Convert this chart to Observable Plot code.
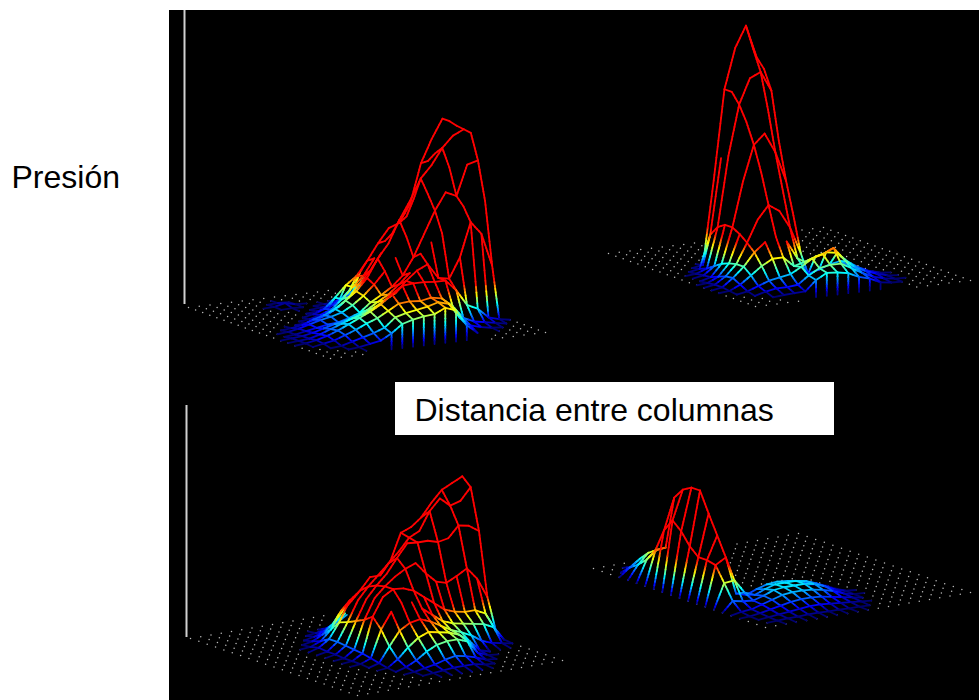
<!DOCTYPE html>
<html><head><meta charset="utf-8">
<style>html,body{margin:0;padding:0;background:#fff}svg{display:block}</style>
<script src="https://cdn.jsdelivr.net/npm/d3@7"></script>
<script src="https://cdn.jsdelivr.net/npm/@observablehq/plot@0.6"></script>
</head><body><div id="chart"></div>
<script>
const _ = null; // node hidden behind the surface in the picture
const pressure1 = [
[0,0,0,0,0,0,0,0,0,0,0,0,0,0,_,_,_,_,_,_,_],
[0,0,0,0,0,0,0,0,0,0,0,0,0,0,_,_,_,_,_,_,_],
[0,0,0,0,0,0,0,.5,0,0,0,0,0,_,_,_,_,_,_,_,_],
[0,0,0,0,0,0,.5,3,.5,0,0,0,_,_,_,_,_,_,_,_,_],
[0,0,0,0,0,0,0,.5,0,0,.5,2,5,10,_,_,_,_,_,_,_],
[0,0,0,0,0,0,0,0,0,1,3,8,14,25,_,_,_,_,_,_,_],
[0,0,0,0,0,0,0,0,1,3,8,18,35,_,_,_,_,_,_,_,_],
[0,0,0,0,0,0,0,2,6,16,27,35,49,65,79,83,101,140,163,182,_],
[0,0,0,0,0,0,1,4,8,17,28,38,54,70,82,92,112,145,167,182,_],
[0,0,0,0,0,1,3,7,13,22,34,46,62,80,96,112,130,155,172,180,_],
[0,0,0,1,3,7,10,15,22,30,42,60,74,96,114,135,147,163,174,179,_],
[0,0,1,3,6,9,11,14,20,28,38,50,62,82,100,122,138,146,165,178,_],
[0,0,1,3,5,7,8,11,15,24,30,37,47,64,86,108,125,120,150,153,_],
[0,1,2,4,7,10,12,15,20,27,33,42,52,70,80,88,97,112,118,115,_],
[0,1,2,5,9,13,17,20,25,31,37,48,57,62,47,45,65,99,86,53,_],
[0,1,3,6,10,15,20,25,31,40,47,48,48,47,47,36,20,15,5,2,0],
[0,0,2,4,8,12,17,21,27,33,34,33,35,33,24,11,6,4,2,0,0],
[0,0,0,1,4,7,10,14,23,26,28,30,33,30,15,6,3,1,0,0,0],
[0,0,0,0,1,3,5,11,19,22,24,25,30,26,10,1,_,0,0,0,0],
[0,0,0,0,0,_,_,_,_,_,_,_,_,_,_,_,0,0,0,0,0],
[0,0,0,0,_,_,_,_,_,_,_,_,_,_,_,0,0,0,0,0,0]
];
const pressure2 = [
[0,0,0,0,0,0,0,0,0,_,_,_,_,_,_,_,_,_,0,0,0],
[0,0,0,0,0,0,0,0,0,_,_,_,_,_,_,_,_,_,0,0,0],
[0,0,0,0,0,0,0,0,_,_,_,_,_,_,_,_,_,0,0,0,0],
[0,0,0,0,0,0,0,_,_,_,_,_,_,_,_,_,0,0,0,0,0],
[0,0,0,0,0,0,0,_,_,_,_,_,_,_,_,_,0,0,0,0,0],
[0,0,0,0,0,0,_,_,_,_,_,_,_,_,_,0,0,0,0,0,0],
[0,0,0,0,0,_,_,_,_,_,_,_,_,_,0,0,0,0,0,0,0],
[0,0,0,0,2,85,175,215,236,203,_,_,_,_,0,0,_,0,0,0,0],
[0,0,0,2,35,110,175,205,215,194,_,_,_,_,_,_,_,0,0,0,0],
[0,0,1,5,45,115,165,190,195,175,_,_,_,_,_,_,0,0,0,0,0],
[0,0,2,10,50,110,150,170,160,128,_,_,_,_,_,_,0,0,0,0,0],
[0,0,3,15,50,95,130,140,120,90,_,_,_,_,_,_,0,0,0,0,0],
[0,1,6,18,46,80,105,105,85,58,_,_,_,_,_,0,0,0,0,0,0],
[0,2,9,20,40,62,75,68,50,23,_,_,_,_,_,0,0,0,0,0,0],
[0,2,10,20,33,42,46,40,22,5,8,12,14,7,2,0,0,0,0,0,0],
[0,1,6,14,22,28,28,18,21,25,28,26,16,9,4,1,0,0,0,0,0],
[0,0,2,6,10,12,14,20,27,30,35,22,13,8,4,1,0,0,0,0,0],
[0,0,0,3,5,5,6,14,20,22,22,16,10,5,2,.5,0,0,0,0,0],
[0,0,0,0,1,1.5,2,12,18,17,15,10,7,2,.5,0,0,0,0,0,0],
[0,0,0,0,_,_,_,_,_,_,_,_,_,_,_,0,0,0,0,0,0],
[0,0,0,0,0,_,_,_,_,_,_,_,_,_,_,0,0,0,0,0,0]
];
const pressure3 = [
[0,0,0,0,0,0,0,0,0,0,0,0,0,0,_,_,_,_,_,_,_],
[0,0,0,0,0,0,0,0,0,0,0,0,0,_,_,_,_,_,_,_,_],
[0,0,0,0,0,0,0,0,0,0,0,0,_,_,_,_,_,_,_,_,_],
[0,0,0,0,0,0,0,0,0,0,0,0,_,_,_,_,_,_,_,_,_],
[0,0,0,0,0,0,0,0,0,1,4,8,14,_,_,_,_,_,_,_,_],
[0,0,0,0,0,0,0,0,2,6,12,20,_,_,_,_,_,_,_,_,_],
[0,0,0,0,0,0,0,2,7,16,28,_,_,_,_,_,_,_,_,_,_],
[0,0,0,0,0,0,1,5,15,32,40,_,_,_,_,_,_,_,_,_,_],
[0,0,0,0,0,0,3,10,25,45,53,65,65,78,104,108,116,129,140,145,150],
[0,0,0,0,0,0,2,10,28,48,60,70,80,90,102,107,125,136,127,130,142],
[0,0,0,0,0,0,2,9,32,52,64,74,88,101,100,100,97,99,110,108,101],
[0,0,0,0,0,0,1,8,36,56,66,74,80,84,72,62,59,64,70,58,38],
[0,0,0,0,0,0,1,7,42,60,66,65,61,53,45,37,33,31,31,26,8],
[0,0,0,0,0,0,1,5,32,48,55,54,46,38,30,26,24,22,20,15,1],
[0,0,0,0,0,0,0,3,18,32,38,40,36,30,24,20,15,8,4,2,0],
[0,0,0,0,0,0,0,1,8,18,26,30,28,26,22,14,3,0,0,0,0],
[0,0,0,0,0,0,0,0,3,8,15,20,22,22,18,5,1,0,0,0,0],
[0,0,0,0,0,0,0,0,1,3,5,8,10,8,5,1,0,0,0,0,0],
[0,0,0,0,0,0,0,0,0,1,2,3,3,3,1,0,0,0,0,0,0],
[0,0,0,0,0,0,0,0,0,0,0,0,0,0,0,0,0,0,0,0,0],
[0,0,0,0,0,0,0,0,0,0,0,0,0,0,0,0,0,0,0,0,0]
];
const pressure4 = [
[0,0,0,0,_,_,_,_,_,_,_,_,_,_,0,0,0,0,0,0,0],
[0,0,0,_,_,_,_,_,_,_,_,_,_,0,0,0,0,0,0,0,0],
[0,0,4,_,_,_,_,_,_,_,_,_,0,0,0,0,0,0,0,0,0],
[0,8,15,_,_,_,_,_,_,_,_,0,0,0,0,0,0,0,0,0,0],
[0,14,24,_,_,_,_,_,_,_,0,0,0,0,0,0,0,0,0,0,0],
[0,22,30,_,_,_,_,_,_,_,0,0,0,0,0,0,0,0,0,0,0],
[0,34,35,_,_,_,_,_,_,0,0,0,0,0,0,0,0,0,0,0,0],
[0,57,88,_,_,_,_,_,0,0,0,0,0,0,0,0,0,0,0,0,0],
[0,70,99,_,_,_,_,_,0,0,0,0,0,0,0,0,0,0,0,0,0],
[0,62,104,_,_,_,_,0,0,0,0,0,0,0,0,0,0,0,0,0,0],
[0,50,104,_,_,_,0,0,0,0,0,0,0,0,0,0,0,0,0,0,0],
[0,42,84,_,_,_,_,_,_,_,_,0,0,0,0,0,0,0,0,0,0],
[0,42,65,_,_,_,_,_,_,_,_,0,0,0,0,0,0,0,0,0,0],
[0,40,46,8,5,9,12,13,12,10,7,3,0,0,0,0,0,0,0,0,0],
[0,25,26,12,8,12,15,15,15,13,9,4,0,0,0,0,0,0,0,0,0],
[0,10,8,7,10,14,15,15,15,13,9,4,1,0,0,0,0,0,0,0,0],
[0,2,3,6,9,12,13,13,12,10,7,3,.5,0,0,0,0,0,0,0,0],
[0,.5,2,4,6,8,9,9,8,6,4,2,0,0,0,0,0,0,0,0,0],
[0,0,1,2,3,4,5,5,4,3,2,1,0,0,0,0,0,0,0,0,0],
[0,0,.5,1,1,1.5,1.5,1,1,.5,.5,0,0,0,0,0,0,0,0,0,0],
[0,0,0,0,0,0,0,0,0,0,0,0,0,0,0,0,0,0,0,0,0]
];

// Above `cut`, the picture shows only these lines of each family.
const views = [
  {rows: pressure1, left: [188, 307], du: [7.1, 2.55], dv: [10.75, -1.3], skirt: [7, 14],
   cut: 50, keepI: [7, 10, 12, 14, 15], keepJ: [11, 13, 15, 17, 19]},
  {rows: pressure2, left: [608, 253], du: [7.35, 2.65], dv: [10.75, -1.3], skirt: [7, 13],
   cut: 38, keepI: [7, 9, 11, 13], keepJ: [4, 6, 8, 9]},
  {rows: pressure3, left: [190, 638], du: [8.35, 2.85], dv: [10.25, -1.75], skirt: null,
   cut: 45, keepI: [8, 9, 10, 11, 12], keepJ: [8, 10, 12, 14, 16, 18, 20]},
  {rows: pressure4, left: [593, 568], du: [8.6, 2.95], dv: [10.25, -1.75], skirt: null,
   cut: 1000, keepI: [], keepJ: []}
];
const axisLines = [
  {x: 184, y1: 10, y2: 304},
  {x: 186, y1: 405, y2: 637}
];
const jetStops = [0, .11, .36, .61, .87, 1];
const jetColors = ["#000060", "#0000ff", "#00ffff", "#ffff00", "#ff0000", "#ff0000"];
const jet = d3.scaleLinear().domain(jetStops).range(jetColors).interpolate(d3.interpolateRgb);

const segments = [], dots = [];
function place(v, i, j, z) {
  return [v.left[0] + i * v.du[0] + j * v.dv[0], v.left[1] + i * v.du[1] + j * v.dv[1] - z];
}
function pushSegment(a, b, za, zb) {
  const n = Math.max(1, Math.min(16, Math.ceil(Math.abs(zb - za) / 3)));
  for (let k = 0; k < n; k++) {
    const s = k / n, t = (k + 1) / n;
    segments.push({
      x1: a[0] + (b[0] - a[0]) * s, y1: a[1] + (b[1] - a[1]) * s,
      x2: a[0] + (b[0] - a[0]) * t, y2: a[1] + (b[1] - a[1]) * t,
      z: za + (zb - za) * (s + t) / 2
    });
  }
}
for (const v of views) {
  const R = v.rows;
  R.forEach((row, i) => row.forEach((z, j) => {
    if (z == null) return;
    const p = place(v, i, j, z);
    if (z === 0) dots.push({x: p[0], y: p[1]});
    const right = row[j + 1], down = R[i + 1] ? R[i + 1][j] : null;
    if (right != null && (z > 0 || right > 0) && (Math.min(z, right) < v.cut || v.keepI.includes(i)))
      pushSegment(p, place(v, i, j + 1, right), z, right);
    if (down != null && (z > 0 || down > 0) && (Math.min(z, down) < v.cut || v.keepJ.includes(j)))
      pushSegment(p, place(v, i + 1, j, down), z, down);
  }));
  if (v.skirt) {
    const last = 18;
    for (let j = v.skirt[0]; j <= v.skirt[1]; j++) {
      const z = R[last][j];
      pushSegment(place(v, last, j, z), place(v, last, j, -5), z, 0);
    }
  }
}

const blackField = [{x1: 169, x2: 979, y1: 10, y2: 700}];
const whiteBox = [{x1: 395, x2: 834, y1: 382, y2: 435}];
const labels = [
  {x: 11, y: 187, text: "Presión"},
  {x: 414, y: 420, text: "Distancia entre columnas"}
];

const chart = Plot.plot({
  width: 979, height: 700,
  marginTop: 0, marginRight: 0, marginBottom: 0, marginLeft: 0,
  x: {domain: [0, 979], range: [0, 979], axis: null},
  y: {domain: [0, 700], range: [0, 700], axis: null},
  color: {type: "linear", domain: [0, 45], clamp: true, interpolate: () => jet},
  style: {background: "#fff"},
  marks: [
    Plot.rect(blackField, {x1: "x1", x2: "x2", y1: "y1", y2: "y2", fill: "#000"}),
    Plot.ruleX(axisLines, {x: "x", y1: "y1", y2: "y2", stroke: "#d0d0d0", strokeWidth: 2}),
    Plot.dot(dots, {x: "x", y: "y", r: 0.75, fill: "#bbbbbb", stroke: "none"}),
    Plot.link(segments, {x1: "x1", y1: "y1", x2: "x2", y2: "y2", stroke: "z", strokeWidth: 1.8, strokeLinecap: "round"}),
    Plot.rect(whiteBox, {x1: "x1", x2: "x2", y1: "y1", y2: "y2", fill: "#fff"}),
    Plot.text(labels, {x: "x", y: "y", text: "text", textAnchor: "start", lineAnchor: "bottom", fontSize: 32, fontFamily: "Liberation Sans", fill: "#000"})
  ]
});
document.getElementById("chart").appendChild(chart);
</script></body></html>
